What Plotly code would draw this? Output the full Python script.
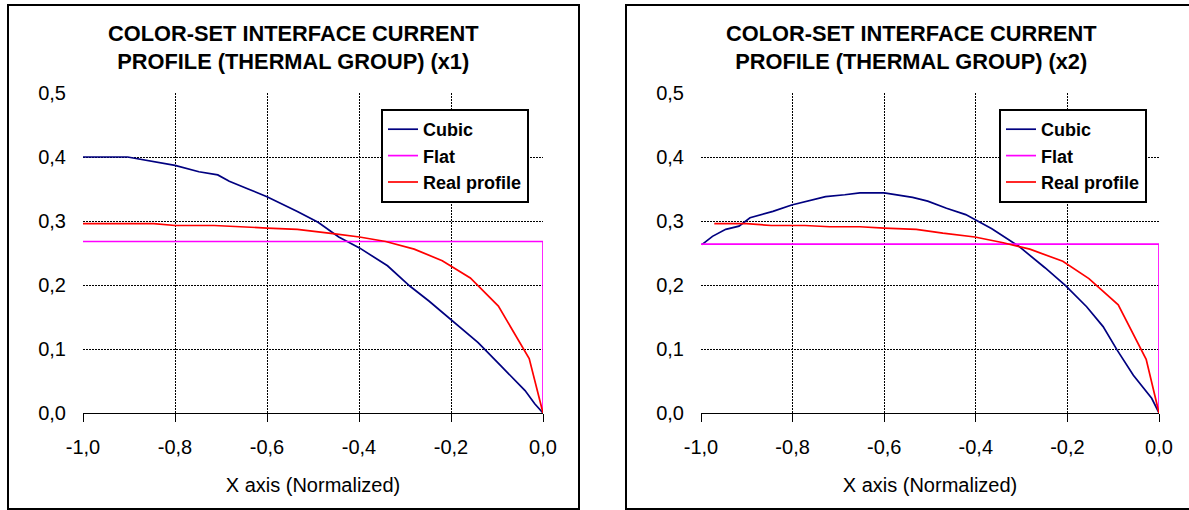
import plotly.graph_objects as go

# ---- x1 profile -------------------------------------------------------
cubic_x1 = [-1.0, -0.903, -0.80, -0.748, -0.707, -0.682, -0.641, -0.60, -0.534,
            -0.489, -0.444, -0.399, -0.338, -0.289, -0.248, -0.198, -0.141,
            -0.092, -0.039, -0.018, 0.0]
cubic_y1 = [0.400, 0.400, 0.387, 0.377, 0.372, 0.362, 0.350, 0.338, 0.315,
            0.298, 0.275, 0.258, 0.230, 0.198, 0.175, 0.144, 0.110,
            0.074, 0.035, 0.0145, 0.0]
flat_x1 = [-1.0, 0.0, 0.0]
flat_y1 = [0.268, 0.268, 0.0]
real_x1 = [-1.0, -0.846, -0.80, -0.715, -0.60, -0.534, -0.452, -0.399, -0.342,
           -0.280, -0.219, -0.158, -0.097, -0.030, 0.0]
real_y1 = [0.296, 0.296, 0.293, 0.293, 0.289, 0.287, 0.280, 0.275, 0.268,
           0.256, 0.238, 0.211, 0.167, 0.085, 0.0]

# ---- x2 profile -------------------------------------------------------
cubic_x2 = [-0.998, -0.975, -0.946, -0.917, -0.893, -0.843, -0.802, -0.769,
            -0.728, -0.686, -0.653, -0.60, -0.571, -0.538, -0.505, -0.464,
            -0.422, -0.402, -0.365, -0.307, -0.274, -0.249, -0.204, -0.158,
            -0.122, -0.092, -0.056, -0.016, 0.0]
cubic_y2 = [0.263, 0.276, 0.287, 0.292, 0.305, 0.315, 0.325, 0.331,
            0.338, 0.341, 0.344, 0.344, 0.341, 0.337, 0.331, 0.320,
            0.310, 0.302, 0.288, 0.261, 0.242, 0.227, 0.199, 0.166,
            0.135, 0.099, 0.059, 0.023, 0.0]
flat_x2 = [-1.0, 0.0, 0.0]
flat_y2 = [0.264, 0.264, 0.0]
real_x2 = [-0.971, -0.901, -0.847, -0.773, -0.719, -0.653, -0.60, -0.530,
           -0.472, -0.402, -0.340, -0.282, -0.210, -0.153, -0.089, -0.028, 0.0]
real_y2 = [0.296, 0.296, 0.293, 0.293, 0.291, 0.291, 0.289, 0.287,
           0.281, 0.275, 0.266, 0.256, 0.237, 0.210, 0.169, 0.084, 0.0]

titles = ["COLOR-SET INTERFACE CURRENT<br>PROFILE (THERMAL GROUP) (x1)",
          "COLOR-SET INTERFACE CURRENT<br>PROFILE (THERMAL GROUP) (x2)"]
series_names = ["Cubic", "Flat", "Real profile"]
x_tick_vals = [-1.0, -0.8, -0.6, -0.4, -0.2, 0.0]
x_tick_text = ["-1,0", "-0,8", "-0,6", "-0,4", "-0,2", "0,0"]
y_tick_vals = [0.0, 0.1, 0.2, 0.3, 0.4, 0.5]
y_tick_text = ["0,0", "0,1", "0,2", "0,3", "0,4", "0,5"]

W, H = 1189, 510
FONT = "Liberation Sans, Arial, sans-serif"
colors = ["#000080", "#FF00FF", "#FF0000"]


def px_x(p):
    return p / W


def px_y(p):
    return (H - p) / H


fig = go.Figure()

panels = [
    dict(xa="x", ya="y", leg="legend",
         data=[(cubic_x1, cubic_y1), (flat_x1, flat_y1), (real_x1, real_y1)]),
    dict(xa="x2", ya="y2", leg="legend2",
         data=[(cubic_x2, cubic_y2), (flat_x2, flat_y2), (real_x2, real_y2)]),
]
for panel in panels:
    for name, color, (xs, ys) in zip(series_names, colors, panel["data"]):
        fig.add_trace(go.Scatter(
            x=xs, y=ys, mode="lines", name=name,
            line=dict(color=color, width=1.7),
            xaxis=panel["xa"], yaxis=panel["ya"], legend=panel["leg"],
            hoverinfo="skip"))

# plot-area geometry (pixels)
plot_left = [83, 701]
plot_right = [543, 1159]
plot_top, plot_bottom = 93, 413
box_left = [8, 626]
box_right = [579, 1197]
box_top, box_bottom = 5, 509
title_center = [293.5, 911.5]

grid = dict(showgrid=True, gridcolor="black", griddash="2px,1px", gridwidth=1)
tickfont = dict(family=FONT, size=20, color="black")

for i in range(2):
    sfx = "" if i == 0 else "2"
    dom_x = [px_x(plot_left[i]), px_x(plot_right[i])]
    dom_y = [px_y(plot_bottom), px_y(plot_top)]
    fig.layout["xaxis" + sfx] = dict(
        domain=dom_x, range=[-1, 0], automargin=False,
        tickvals=x_tick_vals, ticktext=x_tick_text,
        ticks="outside", ticklen=8, tickcolor="black", tickwidth=1,
        showline=True, linecolor="black", linewidth=1, zeroline=False,
        tickfont=tickfont, ticklabelstandoff=8,
        title=dict(text="X axis (Normalized)", standoff=20,
                   font=dict(family=FONT, size=20, color="black")),
        anchor="y" + sfx, fixedrange=True, **grid)
    fig.layout["yaxis" + sfx] = dict(
        domain=dom_y, range=[0, 0.5], automargin=False,
        tickvals=y_tick_vals, ticktext=y_tick_text,
        ticks="", showline=False, zeroline=False,
        tickfont=tickfont, ticklabelstandoff=16,
        anchor="x" + sfx, fixedrange=True, **grid)
    # solid right-hand edge of the plot area, kept under the data lines
    fig.layout["yaxis" + str(3 + i)] = dict(
        overlaying="y" + sfx, anchor="x" + sfx, side="right",
        range=[0, 0.5], automargin=False,
        showline=True, linecolor="black", linewidth=1.2,
        showgrid=False, zeroline=False, showticklabels=False, ticks="",
        layer="below traces", fixedrange=True)

shapes = []
for i in range(2):
    shapes.append(dict(type="rect", xref="paper", yref="paper",
                       x0=px_x(box_left[i]), x1=px_x(box_right[i]),
                       y0=px_y(box_bottom), y1=px_y(box_top),
                       line=dict(color="black", width=2), layer="below"))

annotations = []
for i in range(2):
    annotations.append(dict(
        text=titles[i], xref="paper", yref="paper",
        x=px_x(title_center[i]), y=px_y(47.5),
        xanchor="center", yanchor="middle", showarrow=False,
        font=dict(family=FONT, size=21.8, color="black", weight="bold")))

legend_style = dict(
    bgcolor="white", bordercolor="black", borderwidth=2,
    font=dict(family=FONT, size=18, color="black", weight="bold"),
    xanchor="left", yanchor="top", tracegroupgap=0,
    itemwidth=30, traceorder="normal")

fig.update_layout(
    width=W, height=H,
    margin=dict(l=0, r=0, t=0, b=0, autoexpand=False),
    paper_bgcolor="white", plot_bgcolor="white",
    showlegend=True,
    legend=dict(x=px_x(381), y=px_y(109), **legend_style),
    legend2=dict(x=px_x(999), y=px_y(109), **legend_style),
    shapes=shapes, annotations=annotations,
    font=dict(family=FONT, color="black"),
)

fig.write_html("out.html")
